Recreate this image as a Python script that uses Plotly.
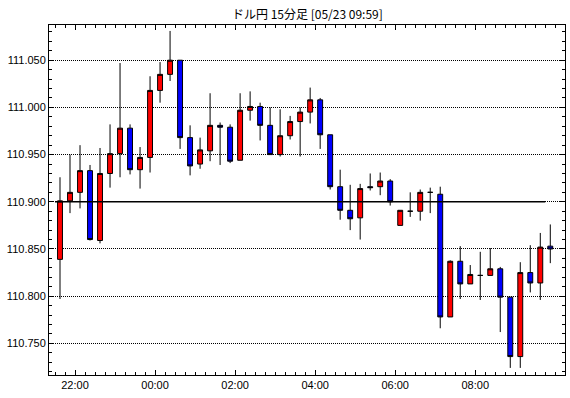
import pandas as pd
import plotly.graph_objects as go

# 15-minute period start times (05/22 21:30 -> 05/23 09:45)
times = ["21:30", "21:45", "22:00", "22:15", "22:30", "22:45", "23:00", "23:15",
         "23:30", "23:45", "00:00", "00:15", "00:30", "00:45", "01:00", "01:15",
         "01:30", "01:45", "02:00", "02:15", "02:30", "02:45", "03:00", "03:15",
         "03:30", "03:45", "04:00", "04:15", "04:30", "04:45", "05:00", "05:15",
         "05:30", "05:45", "06:00", "06:15", "06:30", "06:45", "07:00", "07:15",
         "07:30", "07:45", "08:00", "08:15", "08:30", "08:45", "09:00", "09:15",
         "09:30", "09:45"]

opens = [110.839, 110.901, 110.910, 110.933, 110.859, 110.930, 110.951, 110.978,
         110.934, 110.947, 111.018, 111.035, 111.050, 110.968, 110.940, 110.954,
         110.981, 110.979, 110.944, 110.997, 111.001, 110.981, 110.950, 110.970,
         110.985, 110.995, 111.008, 110.971, 110.916, 110.891, 110.883, 110.916,
         110.916, 110.922, 110.875, 110.890, 110.890, 110.910, 110.908, 110.778,
         110.837, 110.813, 110.822, 110.822, 110.829, 110.799, 110.736, 110.825,
         110.814, 110.853]
highs = [110.926, 110.950, 110.960, 110.939, 110.957, 110.982, 111.047, 110.982,
         110.958, 111.033, 111.048, 111.081, 111.050, 110.981, 110.968, 111.015,
         110.984, 110.982, 111.015, 111.017, 111.005, 111.000, 110.998, 110.991,
         111.000, 111.021, 111.010, 110.971, 110.934, 110.918, 110.919, 110.930,
         110.931, 110.924, 110.891, 110.910, 110.913, 110.915, 110.916, 110.838,
         110.853, 110.833, 110.847, 110.851, 110.831, 110.799, 110.836, 110.854,
         110.867, 110.876]
lows = [110.797, 110.888, 110.893, 110.859, 110.856, 110.915, 110.926, 110.929,
        110.914, 110.931, 111.005, 111.028, 110.956, 110.928, 110.935, 110.943,
        110.939, 110.941, 110.944, 110.986, 110.965, 110.950, 110.948, 110.966,
        110.948, 110.983, 110.956, 110.913, 110.881, 110.870, 110.860, 110.912,
        110.907, 110.896, 110.875, 110.884, 110.880, 110.888, 110.766, 110.778,
        110.797, 110.813, 110.796, 110.822, 110.762, 110.724, 110.724, 110.804,
        110.796, 110.835]
closes = [110.901, 110.910, 110.933, 110.860, 110.930, 110.951, 110.978, 110.934,
          110.947, 111.018, 111.035, 111.050, 110.968, 110.938, 110.955, 110.981,
          110.979, 110.943, 110.997, 111.001, 110.981, 110.950, 110.970, 110.985,
          110.995, 111.008, 110.971, 110.916, 110.891, 110.882, 110.914, 110.915,
          110.922, 110.900, 110.891, 110.890, 110.910, 110.910, 110.778, 110.837,
          110.813, 110.823, 110.822, 110.829, 110.799, 110.736, 110.825, 110.814,
          110.852, 110.850]

x_labels = ["22:00", "00:00", "02:00", "04:00", "06:00", "08:00"]
ref_level = 110.900
title_text = "ドル円 15分足 [05/23 09:59]"


def to_ts(t):
    return pd.Timestamp(("2018-05-22 " if int(t[:2]) >= 12 else "2018-05-23 ") + t)


starts = [to_ts(t) for t in times]
half = pd.Timedelta(minutes=7.5)
centers = [s + half for s in starts]
label_pos = [to_ts(t) for t in x_labels]

fig = go.Figure()
fig.add_trace(go.Candlestick(
    x=centers, open=opens, high=highs, low=lows, close=closes,
    increasing=dict(fillcolor="#FF0000", line=dict(color="black", width=1)),
    decreasing=dict(fillcolor="#0000FF", line=dict(color="black", width=1)),
    whiskerwidth=0, showlegend=False, hoverinfo="skip",
))

fig.add_shape(type="line", xref="x", yref="y",
              x0=starts[0], x1=starts[-1], y0=ref_level, y1=ref_level,
              line=dict(color="black", width=1.5), layer="above")

fig.add_annotation(text=title_text, xref="paper", yref="paper", x=0.5, y=1,
                   yanchor="middle", yshift=12, showarrow=False,
                   font=dict(family="Noto Sans CJK JP", size=12, color="black"))

x_lo = starts[0] - pd.Timedelta(minutes=9)
x_hi = starts[-1] + pd.Timedelta(minutes=29, seconds=33)

fig.update_layout(
    width=570, height=398,
    margin=dict(l=49, r=5, t=25, b=23),
    paper_bgcolor="white", plot_bgcolor="white",
    font=dict(family="Liberation Sans", size=11, color="black"),
    boxgap=0.3,
    xaxis=dict(
        type="date", range=[x_lo, x_hi], rangeslider=dict(visible=False),
        tickmode="array", tickvals=label_pos, ticktext=x_labels,
        ticks="inside", ticklen=5, tickcolor="black", tickwidth=1,
        showline=True, linecolor="black", linewidth=1, mirror="ticks",
        showgrid=False, zeroline=False,
        minor=dict(dtick=900000, tick0="2018-05-22 22:00", ticks="inside",
                   ticklen=3, tickcolor="black", showgrid=False),
        tickfont=dict(size=11, color="black"),
    ),
    yaxis=dict(
        range=[110.7165, 111.0873], tick0=110.75, dtick=0.05, tickformat=".3f",
        ticks="inside", ticklen=5, tickcolor="black", tickwidth=1,
        showline=True, linecolor="black", linewidth=1, mirror="ticks",
        showgrid=True, gridcolor="black", gridwidth=1, griddash="1px,1px",
        zeroline=False,
        minor=dict(dtick=0.01, tick0=110.75, ticks="inside", ticklen=3,
                   tickcolor="black", showgrid=False),
        tickfont=dict(size=11, color="black"),
    ),
)

fig.write_html("out.html")
